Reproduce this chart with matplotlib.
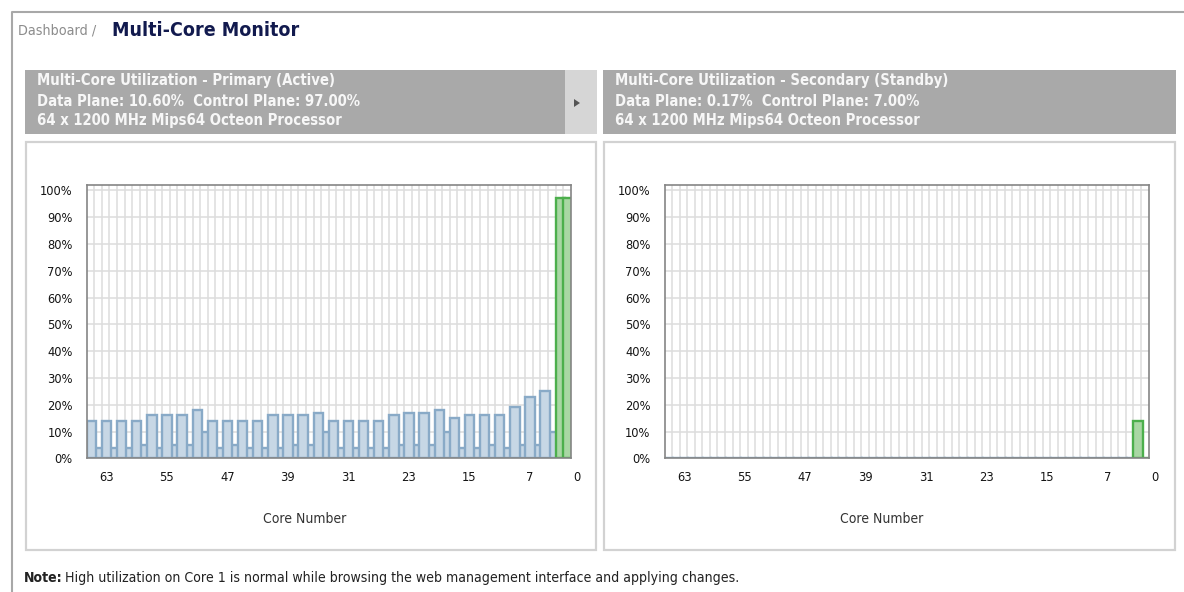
import numpy as np
import matplotlib
matplotlib.use("Agg")
import matplotlib.pyplot as plt
from matplotlib.patches import Rectangle, Polygon
from matplotlib.lines import Line2D

# ---- data -------------------------------------------------------------
cores = list(range(63, -1, -1))          # cores as laid out left to right
primary_util = [14, 4, 14, 4, 14, 4, 14, 5, 16, 4,
                16, 5, 16, 5, 18, 10, 14, 4, 14, 5,
                14, 4, 14, 4, 16, 4, 16, 5, 16, 5,
                17, 10, 14, 4, 14, 4, 14, 4, 14, 4,
                16, 5, 17, 5, 17, 5, 18, 10, 15, 4,
                16, 4, 16, 5, 16, 4, 19, 5, 23, 5,
                25, 10, 97, 97]
secondary_util = [0, 0, 0, 0, 0, 0, 0, 0, 0, 0,
                  0, 0, 0, 0, 0, 0, 0, 0, 0, 0,
                  0, 0, 0, 0, 0, 0, 0, 0, 0, 0,
                  0, 0, 0, 0, 0, 0, 0, 0, 0, 0,
                  0, 0, 0, 0, 0, 0, 0, 0, 0, 0,
                  0, 0, 0, 0, 0, 0, 0, 0, 0, 0,
                  0, 0, 14, 0]
control_cores = [1, 0]
tick_cores = [63, 55, 47, 39, 31, 23, 15, 7, 0]
y_ticks = list(range(0, 101, 10))

primary_lines = ["Multi-Core Utilization - Primary (Active)",
                 "Data Plane: 10.60%  Control Plane: 97.00%",
                 "64 x 1200 MHz Mips64 Octeon Processor"]
secondary_lines = ["Multi-Core Utilization - Secondary (Standby)",
                   "Data Plane: 0.17%  Control Plane: 7.00%",
                   "64 x 1200 MHz Mips64 Octeon Processor"]

# ---- styling ----------------------------------------------------------
W, H = 1184, 592
BLUE_FILL, BLUE_EDGE = "#c7d7e5", "#89aac7"
GREEN_FILL, GREEN_EDGE = "#a9d7a4", "#4caf4c"
GRID = "#dddddd"
FRAME = "#858585"
HEADER = "#a9a9a9"
UI_FONT = dict(family="DejaVu Sans", fontstretch="condensed")

plt.rcParams["font.family"] = ["DejaVu Sans"]

fig = plt.figure(figsize=(W / 100, H / 100), dpi=100)
fig.patch.set_facecolor("white")


def fx(px):
    return px / W


def fy(py):
    return 1 - py / H


def rect(x0, y0, x1, y1, **kw):
    fig.add_artist(Rectangle((fx(x0), fy(y1)), (x1 - x0) / W, (y1 - y0) / H,
                             transform=fig.transFigure, **kw))


# page frame and breadcrumb
fig.add_artist(Line2D([fx(12), fx(12), 1], [0, fy(12), fy(12)],
                      transform=fig.transFigure, color="#a8a8a8", lw=1.5))
fig.text(fx(18), fy(31), "Dashboard /", color="#8c8c8c", fontsize=10.3,
         va="center", ha="left", **UI_FONT)
fig.text(fx(112), fy(30), "Multi-Core Monitor", color="#121a4e", fontsize=14,
         fontweight="bold", va="center", ha="left", **UI_FONT)


def draw_panel(box_x0, box_x1, header_x1, lines, util, ax_x0):
    # header strip
    rect(box_x0, 70, header_x1, 134, facecolor=HEADER, edgecolor="none")
    for k, line in enumerate(lines):
        fig.text(fx(box_x0 + 12), fy(81 + 20 * k), line, color="#f7f7f7",
                 fontsize=10.6, fontweight="bold", va="center", ha="left", **UI_FONT)
    # panel frame
    rect(box_x0 + 1, 142, box_x1 - 1, 550, facecolor="none",
         edgecolor="#d2d2d2", lw=1.6)

    ax = fig.add_axes([fx(ax_x0), fy(458.3), 484 / W, 273.3 / H])
    slots = np.arange(len(cores))
    vals = np.array(util, dtype=float)
    is_ctrl = np.array([c in control_cores for c in cores])
    fills = np.where(is_ctrl, GREEN_FILL, BLUE_FILL)
    edges = np.where(is_ctrl, GREEN_EDGE, BLUE_EDGE)
    # taller bars are painted over their shorter neighbours
    order = np.argsort(vals, kind="stable")
    ax.bar(slots[order], vals[order], width=1.23, align="edge",
           color=fills[order], edgecolor=edges[order], linewidth=1.7, zorder=2)

    ax.set_xlim(0, len(cores))
    ax.set_ylim(0, 102)
    ax.set_xticks(np.arange(1, len(cores)))
    ax.set_xticklabels([])
    ax.set_yticks(y_ticks)
    ax.set_yticklabels([f"{v}%" for v in y_ticks], fontsize=8.3, color="#141414")
    ax.tick_params(length=0, pad=10)
    ax.grid(True, color=GRID, lw=1.1, zorder=0)
    ax.set_axisbelow(True)
    for s in ax.spines.values():
        s.set_color(FRAME)
        s.set_linewidth(1.2)
        s.set_zorder(3)

    # core-number labels, drawn a couple of slots right of their core
    for c in tick_cores:
        pos = min(63 - c + 2.6, 64.8)
        ax.annotate(str(c), xy=(pos, 0), xycoords=("data", "axes fraction"),
                    xytext=(0, -13.5), textcoords="offset points",
                    ha="center", va="center", fontsize=8.3, color="#141414",
                    annotation_clip=False)
    fig.text(fx(ax_x0 + 217.5), fy(519), "Core Number", fontsize=10,
             color="#333333", ha="center", va="center", **UI_FONT)
    return ax


draw_panel(25, 597, 565, primary_lines, primary_util, 86.7)
draw_panel(603, 1176, 1176, secondary_lines, secondary_util, 664.5)

# expand button next to the primary header
rect(565, 70, 597, 134, facecolor="#d6d6d6", edgecolor="none")
fig.add_artist(Polygon([[fx(574), fy(99)], [fx(574), fy(107)], [fx(580), fy(103)]],
                       closed=True, transform=fig.transFigure,
                       facecolor="#555555", edgecolor="none"))

# footnote
note = fig.text(fx(24), fy(578), "Note:", fontsize=10.1, fontweight="bold",
                color="#222222", va="center", ha="left", **UI_FONT)
fig.canvas.draw()
bb = note.get_window_extent()
fig.text((bb.x1 + 2) / W, fy(578),
         "High utilization on Core 1 is normal while browsing the web management interface and applying changes.",
         fontsize=10.1, color="#222222", va="center", ha="left", **UI_FONT)

fig.savefig("out.png", dpi=100, facecolor="white")
